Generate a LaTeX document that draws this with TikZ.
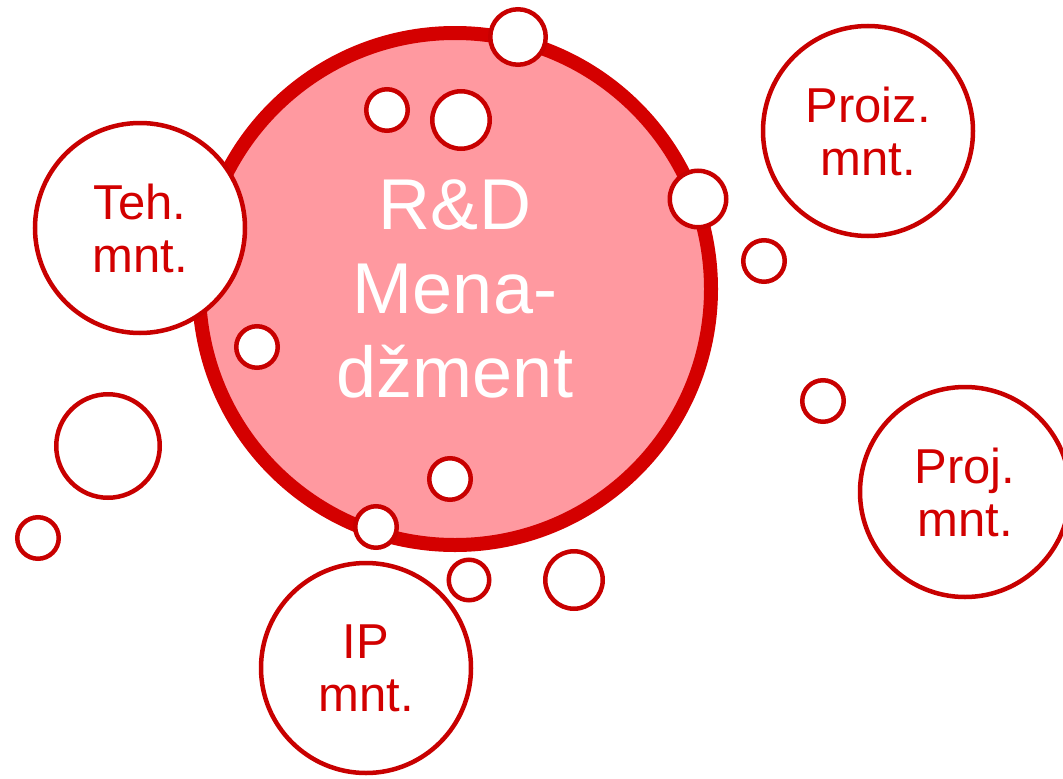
\documentclass[tikz,border=0pt]{standalone}
\usepackage{fontspec}
\setmainfont{Liberation Sans}
\definecolor{RDRing}{RGB}{212,0,0}
\definecolor{RDFill}{RGB}{255,153,160}
\definecolor{RDLine}{RGB}{200,0,0}
\definecolor{RDText}{RGB}{210,0,0}

\begin{document}
\begin{tikzpicture}[x=1pt,y=-1pt,
  core/.style={circle,draw=RDRing,fill=RDFill,line width=14pt,minimum size=512pt,inner sep=0pt,align=center,text=white,font=\fontsize{72}{84}\selectfont},
  area/.style={circle,draw=RDLine,fill=white,line width=4.5pt,minimum size=210pt,inner sep=0pt,align=center,text=RDText,font=\fontsize{49}{53}\selectfont},
  bub/.style={circle,draw=RDLine,fill=white,line width=4.5pt,minimum size=#1,inner sep=0pt}]
\useasboundingbox (0,0) rectangle (1063,779);
\node[core] (rd) at (455,289) {R\&D\\Mena-\\džment};
% satellite areas
\node[area] (teh) at (140,228) {Teh.\\mnt.};
\node[area] (proiz) at (868,131) {Proiz.\\mnt.};
\node[area] (proj) at (965,492) {Proj.\\mnt.};
\node[area] (ip) at (366,668) {IP\\mnt.};
% bubbles
\foreach \n/\x/\y/\d in %
{1/518/37/55.5,2/387/110/41.5,3/461/120/57.5,4/698/199/56.5,
 5/764/261/41.5,6/823/401/41.5,7/257/347/41.5,8/108/446/103.5,
 9/38/538/41.5,10/450/479/41.5,11/376/527/41.5,12/469/580/40.5,
 13/574/580/57.5} {
   \node[bub=\d pt] (b\n) at (\x,\y) {};
}
\end{tikzpicture}
\end{document}
